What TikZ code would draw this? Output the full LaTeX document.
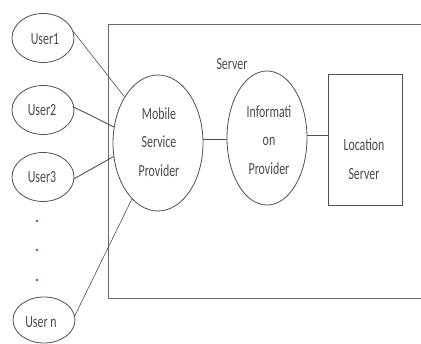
\documentclass[tikz,border=0pt]{standalone}
\usepackage{fontspec}
\setmainfont{Carlito}
\usetikzlibrary{shapes.geometric}
\newcommand{\sq}[1]{\scalebox{0.7}[1]{#1}}
\definecolor{ln}{HTML}{505050}
\definecolor{bx}{HTML}{6A6A6A}
\definecolor{tx}{HTML}{4A4A4A}
\definecolor{dotc}{HTML}{6A4C9C}
\tikzset{
  ell/.style={ellipse, draw=ln, line width=0.8pt, inner sep=0pt},
  usr/.style={ell, minimum width=62pt, minimum height=49pt},
  lbl/.style={text=tx, font=\fontsize{17}{28.5}\selectfont, align=center, inner sep=0pt},
  conn/.style={draw=ln, line width=0.6pt},
  box/.style={draw=bx, line width=1.3pt}
}
\begin{document}
\begin{tikzpicture}[x=1pt,y=-1pt]
\clip (0,0) rectangle (421,344);
\fill[white] (0,0) rectangle (421,344);
% server frame
\node[box, rectangle, minimum width=330pt, minimum height=274pt, anchor=north west, inner sep=0pt] (srv) at (108,24) {};
\node[lbl] (srvl) at (232,64) {\sq{Server}};
% users
\node[usr] (u1) at (43,38) {};
\node[usr] (u2) at (43,110) {};
\node[usr] (u3) at (43,177) {};
\node[usr, minimum height=46pt] (un) at (44,320) {};
\node[lbl] (u1l) at (45,39) {\sq{User1}};
\node[lbl] (u2l) at (42,110) {\sq{User2}};
\node[lbl] (u3l) at (42,177) {\sq{User3}};
\node[lbl] (unl) at (41,322) {\sq{User n}};
% dots
\foreach \y/\n in {221/d1,250/d2,280/d3}
  \node[circle, fill=dotc, inner sep=0pt, minimum size=2.6pt] (\n) at (37,\y) {};
% providers
\node[ell, minimum width=90pt, minimum height=136pt] (msp) at (158,143) {};
\node[lbl] (mspl) at (159,142) {\sq{Mobile}\\\sq{Service}\\\sq{Provider}};
\node[ell, minimum width=80pt, minimum height=134pt] (ip) at (267,138) {};
\node[lbl] (ipl) at (269,140) {\sq{Informati}\\\sq{on}\\\sq{Provider}};
\node[rectangle, draw=ln, line width=0.9pt, minimum width=74pt, minimum height=131pt, inner sep=0pt] (ls) at (365,139.5) {};
\node[lbl] (lsl) at (364,159) {\sq{Location}\\\sq{Server}};
% connectors
\draw[conn] (u1.12) -- (msp.126);
\draw[conn, line width=0.9pt] (u2.5) -- (msp.160);
\draw[conn, line width=0.9pt] (u3.-3) -- (msp.197);
\draw[conn] (un.8) -- (msp.245);
\draw[conn, line width=0.9pt] (msp.4) -- (msp.4 -| ip.west);
\draw[conn, line width=0.9pt] (ip.4) -- (ip.4 -| ls.west);
\end{tikzpicture}
\end{document}
